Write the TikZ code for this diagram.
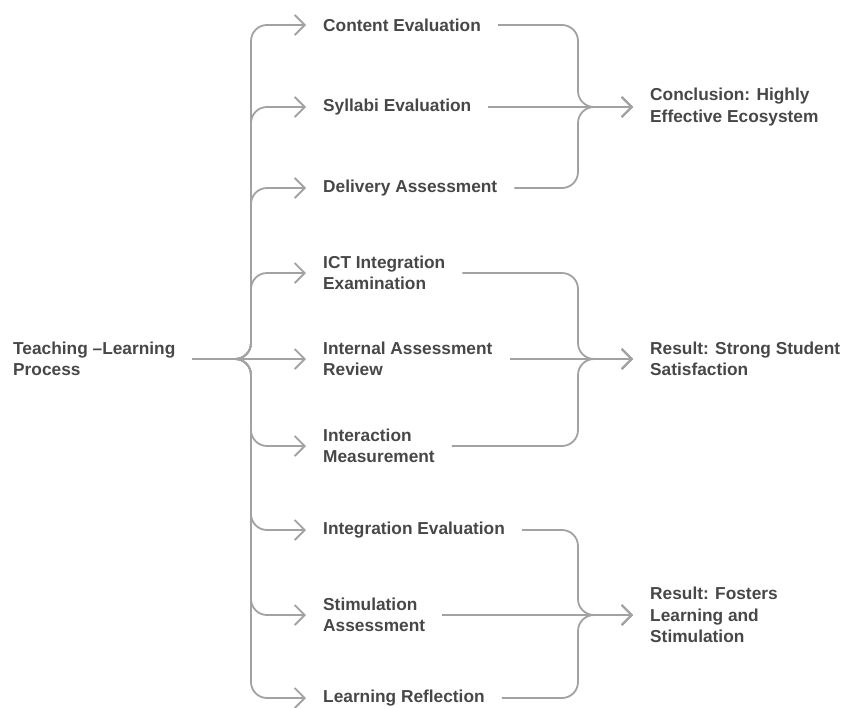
\documentclass[tikz,border=0pt]{standalone}
\usepackage{fontspec}
\setmainfont{Liberation Sans}
\usetikzlibrary{arrows.meta}
\usetikzlibrary{positioning}

\definecolor{ink}{HTML}{474747}
\definecolor{wire}{HTML}{A2A2A2}

\begin{document}
\begin{tikzpicture}[x=1pt,y=-1pt,every node/.style={anchor=west,align=left,text=ink,inner xsep=17pt,inner ysep=0pt,font=\fontsize{17.3}{21.5}\selectfont\bfseries},
  link/.style={draw=wire,line width=1.8pt,rounded corners=16pt,-{Straight Barb[length=10pt,width=20pt]}}]
  \useasboundingbox (0,0) rectangle (843,707);
  \node (0) at (-4,359){Teaching –Learning\\Process};

  \node (1) at (306,25){Content Evaluation};
  \node (2) at (306,107){Syllabi Evaluation};
  \node (3) at (306,188){Delivery Assessment};
  \node (4) at (306,273){ICT Integration\\Examination};
  \node (5) at (306,359){Internal Assessment\\Review};
  \node (6) at (306,446){Interaction\\Measurement};
  \node (7) at (306,530){Integration Evaluation};
  \node (8) at (306,615){Stimulation\\Assessment};
  \node (9) at (306,698){Learning Reflection};

  \node (a) at (633,107){Conclusion: Highly\\Effective Ecosystem};
  \node (b) at (633,359){Result: Strong Student\\Satisfaction};
  \node (c) at (633,615){Result: Fosters\\Learning and\\Stimulation};

  \coordinate (bus) at (251,359);
  \coordinate (ja) at (578,107);
  \coordinate (jb) at (578,359);
  \coordinate (jc) at (578,615);

  \draw[link](0.east)-|(bus|-1.west)--(1.west);
  \draw[link](0.east)-|(bus|-2.west)--(2.west);
  \draw[link](0.east)-|(bus|-3.west)--(3.west);
  \draw[link](0.east)-|(bus|-4.west)--(4.west);
  \draw[link](0.east)--(5.west);
  \draw[link](0.east)-|(bus|-6.west)--(6.west);
  \draw[link](0.east)-|(bus|-7.west)--(7.west);
  \draw[link](0.east)-|(bus|-8.west)--(8.west);
  \draw[link](0.east)-|(bus|-9.west)--(9.west);

  \draw[link](1.east)-|(ja)--(a.west);
  \draw[link](2.east)--(a.west);
  \draw[link](3.east)-|(ja)--(a.west);
  \draw[link](4.east)-|(jb)--(b.west);
  \draw[link](5.east)--(b.west);
  \draw[link](6.east)-|(jb)--(b.west);
  \draw[link](7.east)-|(jc)--(c.west);
  \draw[link](8.east)--(c.west);
  \draw[link](9.east)-|(jc)--(c.west);
\end{tikzpicture}
\end{document}
